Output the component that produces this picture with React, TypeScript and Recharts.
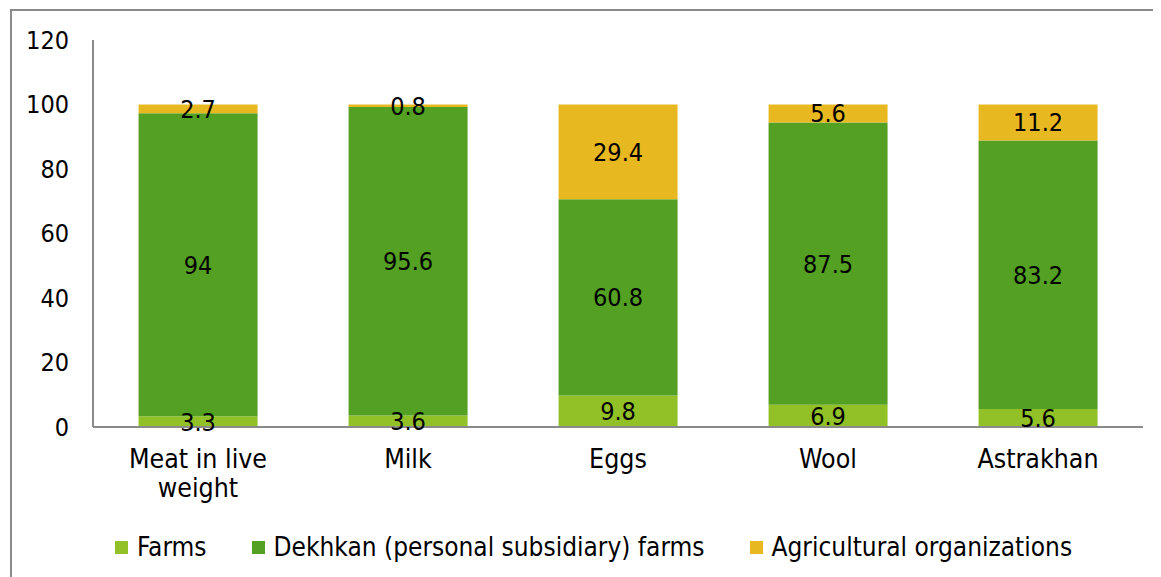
import React from 'react';
import { BarChart, Bar, XAxis, YAxis, LabelList, Legend } from 'recharts';

const categories = ['Meat in live weight', 'Milk', 'Eggs', 'Wool', 'Astrakhan'];
const farms = [3.3, 3.6, 9.8, 6.9, 5.6];
const dekhkan = [94, 95.6, 60.8, 87.5, 83.2];
const agri = [2.7, 0.8, 29.4, 5.6, 11.2];
const yTicks = [0, 20, 40, 60, 80, 100, 120];
const seriesNames = ['Farms', 'Dekhkan (personal subsidiary) farms', 'Agricultural organizations'];
const colors = ['#92c027', '#53a022', '#e8b820'];

const data = categories.map((c, i) => ({ name: c, farms: farms[i], dekhkan: dekhkan[i], agri: agri[i] }));

const FONT = "'DejaVu Sans Condensed', 'DejaVu Sans', sans-serif";
const FS = 25;
const TFS = 26.5;
const LFS = 26;

const splitLabel = (s: string): string[] => {
  if (s === 'Meat in live weight') return ['Meat in live', 'weight'];
  return [s];
};

const XTick = (props: any) => {
  const { x, y, payload } = props;
  const lines = splitLabel(String(payload.value));
  return (
    <text x={x} y={y} textAnchor="middle" fill="#000" fontFamily={FONT} fontSize={TFS}>
      {lines.map((l, i) => (
        <tspan key={i} x={x} y={y + 33 + i * 29}>{l}</tspan>
      ))}
    </text>
  );
};

const LegendContent = () => (
  <div style={{ display: 'flex', alignItems: 'center', paddingLeft: 107, fontFamily: FONT, fontSize: LFS, color: '#000', whiteSpace: 'nowrap' }}>
    {seriesNames.map((n, i) => (
      <div key={n} style={{ display: 'flex', alignItems: 'center', marginRight: 45 }}>
        <div style={{ width: 13, height: 13, background: colors[i] }} />
        <span style={{ marginLeft: 9 }}>{n}</span>
      </div>
    ))}
  </div>
);

export default function App() {
  return (
    <div style={{ position: 'relative', width: 1153, height: 569 }}>
      <div
        style={{
          position: 'absolute',
          left: 2,
          top: 1,
          width: 1151,
          height: 568,
          borderTop: '2px solid #8a8a8a',
          borderLeft: '2px solid #8a8a8a',
          boxSizing: 'border-box',
        }}
      />
      <div style={{ position: 'absolute', left: 0, top: 0 }}>
        <BarChart
          width={1153}
          height={569}
          data={data}
          margin={{ top: 32, right: 18, left: 0, bottom: 70 }}
          barCategoryGap="21.7%"
        >
          <XAxis
            dataKey="name"
            height={80}
            axisLine={{ stroke: '#8a8a8a', strokeWidth: 2 }}
            tickLine={false}
            tick={<XTick />}
            interval={0}
          />
          <YAxis
            width={85}
            domain={[0, 120]}
            ticks={yTicks}
            axisLine={{ stroke: '#8a8a8a', strokeWidth: 2 }}
            tickLine={false}
            tickSize={6}
            tickMargin={18}
            tick={{ fill: '#000', fontFamily: FONT, fontSize: FS }}
          />
          <Legend
            layout="horizontal"
            verticalAlign="middle"
            align="center"
            wrapperStyle={{ top: 524, left: 0, width: 1153 }}
            content={<LegendContent />}
          />
          <Bar dataKey="farms" stackId="a" fill={colors[0]} name={seriesNames[0]} isAnimationActive={false}>
            <LabelList dataKey="farms" position="center" fill="#000" fontFamily={FONT} fontSize={FS} />
          </Bar>
          <Bar dataKey="dekhkan" stackId="a" fill={colors[1]} name={seriesNames[1]} isAnimationActive={false}>
            <LabelList dataKey="dekhkan" position="center" fill="#000" fontFamily={FONT} fontSize={FS} />
          </Bar>
          <Bar dataKey="agri" stackId="a" fill={colors[2]} name={seriesNames[2]} isAnimationActive={false}>
            <LabelList dataKey="agri" position="center" fill="#000" fontFamily={FONT} fontSize={FS} />
          </Bar>
        </BarChart>
      </div>
    </div>
  );
}
